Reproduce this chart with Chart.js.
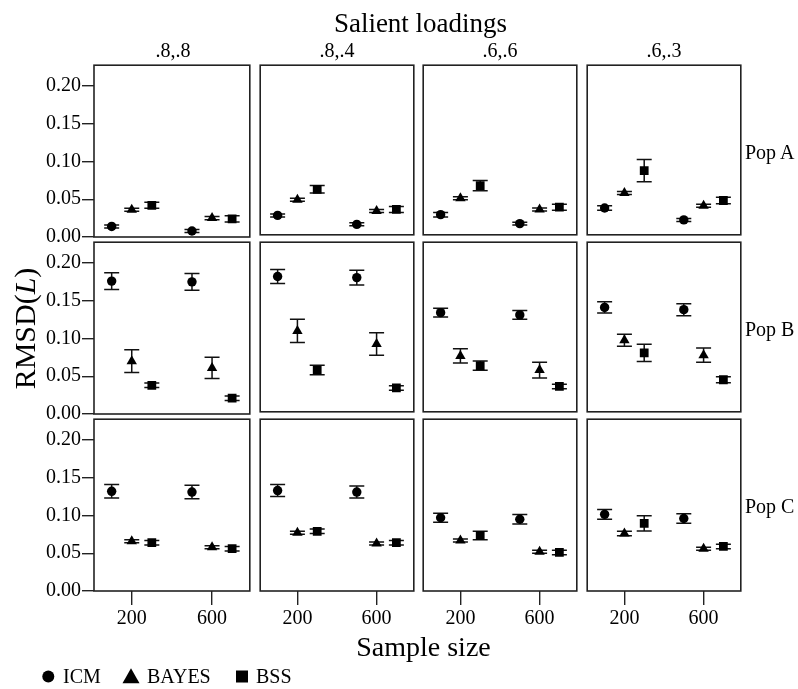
<!DOCTYPE html>
<html>
<head>
<meta charset="utf-8">
<title>RMSD(L) by sample size, salient loadings and population</title>
<script src="https://cdn.jsdelivr.net/npm/chart.js@4/dist/chart.umd.min.js"></script>
<style>
  html, body { margin: 0; padding: 0; background: #fff; }
  #page { position: relative; width: 798px; height: 689px; overflow: hidden; background: #fff; }
  #page canvas { position: absolute; }
  #labels { position: absolute; left: 0; top: 0; pointer-events: none; }
  #labels text { font-family: 'Liberation Serif', 'Times New Roman', serif; fill: #000; }
</style>
</head>
<body>
<div id="page"></div>
<script>
// Facets
const loadings = ['.8,.8', '.8,.4', '.6,.6', '.6,.3'];
const populations = ['Pop A', 'Pop B', 'Pop C'];
const methods = ['ICM', 'BAYES', 'BSS'];
const sampleSizes = [200, 600];
const yTicks = [0.00, 0.05, 0.10, 0.15, 0.20];

// Mean RMSD(L), ordered loading by loading: [n=200, n=600] for .8,.8 | .8,.4 | .6,.6 | .6,.3
const popA_ICM       = [0.014, 0.008, 0.026, 0.014, 0.027, 0.015, 0.036, 0.020];
const popA_ICM_err   = [0.002, 0.002, 0.002, 0.002, 0.003, 0.002, 0.003, 0.002];
const popA_BAYES     = [0.036, 0.025, 0.047, 0.032, 0.049, 0.034, 0.056, 0.039];
const popA_BAYES_err = [0.002, 0.002, 0.002, 0.002, 0.002, 0.002, 0.002, 0.002];
const popA_BSS       = [0.042, 0.024, 0.061, 0.034, 0.066, 0.037, 0.086, 0.046];
const popA_BSS_err   = [0.004, 0.004, 0.005, 0.004, 0.007, 0.004, 0.015, 0.0045];

const popB_ICM       = [0.176, 0.175, 0.1815, 0.180, 0.133, 0.130, 0.140, 0.137];
const popB_ICM_err   = [0.011, 0.011, 0.0095, 0.0098, 0.006, 0.0058, 0.0075, 0.008];
const popB_BAYES     = [0.070, 0.061, 0.1085, 0.091, 0.075, 0.056, 0.096, 0.076];
const popB_BAYES_err = [0.015, 0.014, 0.0155, 0.015, 0.0095, 0.0106, 0.008, 0.0095];
const popB_BSS       = [0.038, 0.021, 0.056, 0.032, 0.062, 0.034, 0.079, 0.043];
const popB_BSS_err   = [0.003, 0.003, 0.0063, 0.003, 0.0063, 0.003, 0.0115, 0.004];

const popC_ICM       = [0.132, 0.131, 0.133, 0.131, 0.097, 0.095, 0.1015, 0.096];
const popC_ICM_err   = [0.009, 0.009, 0.008, 0.008, 0.006, 0.0063, 0.0065, 0.0063];
const popC_BAYES     = [0.066, 0.058, 0.077, 0.063, 0.067, 0.052, 0.076, 0.056];
const popC_BAYES_err = [0.002, 0.002, 0.002, 0.002, 0.002, 0.002, 0.003, 0.002];
const popC_BSS       = [0.064, 0.056, 0.079, 0.064, 0.0735, 0.051, 0.0895, 0.059];
const popC_BSS_err   = [0.003, 0.003, 0.003, 0.003, 0.0055, 0.003, 0.010, 0.003];

const means = [
  [popA_ICM, popA_BAYES, popA_BSS],
  [popB_ICM, popB_BAYES, popB_BSS],
  [popC_ICM, popC_BAYES, popC_BSS]
];
const errs = [
  [popA_ICM_err, popA_BAYES_err, popA_BSS_err],
  [popB_ICM_err, popB_BAYES_err, popB_BSS_err],
  [popC_ICM_err, popC_BAYES_err, popC_BSS_err]
];

// Panel geometry
const colLeft = [94, 258, 421, 585];
const rowTop = [63, 240, 417];
const panelW = 158, panelH = 174;
const PAD = 4;
const LABEL_ROOM = 14;       // room below left panels for the "0.00" label
const Y_AXIS_W = 94;
const X_AXIS_H = 44;
const DODGE = 100;           // horizontal spread between methods within a sample size
const X_MIN = 12, X_MAX = 788;
const Y_MAX = 0.2275;

const markerStyle = { ICM: ['circle', 4.7], BAYES: ['triangle', 6], BSS: ['rect', 6.2] };
const INK = '#111';
const FRAME = '#222';
const serif = "'Liberation Serif', 'Times New Roman', serif";

Chart.defaults.font.family = serif;
Chart.defaults.color = '#000';

const framePlugin = {
  id: 'panelFrame',
  afterDraw(chart) {
    const { ctx, chartArea: a } = chart;
    ctx.save();
    ctx.strokeStyle = FRAME;
    ctx.lineWidth = 1.6;
    ctx.strokeRect(a.left, a.top, a.right - a.left, a.bottom - a.top);
    ctx.restore();
  }
};

const errorBarPlugin = {
  id: 'errorBars',
  beforeDatasetsDraw(chart) {
    const { ctx, scales: { x, y } } = chart;
    ctx.save();
    ctx.strokeStyle = INK;
    ctx.lineWidth = 1.5;
    chart.data.datasets.forEach(ds => {
      ds.data.forEach((p, i) => {
        const e = ds.errors[i];
        const px = x.getPixelForValue(p.x);
        const top = y.getPixelForValue(p.y + e);
        const bot = y.getPixelForValue(p.y - e);
        const half = 7.5;
        ctx.beginPath();
        ctx.moveTo(px, top); ctx.lineTo(px, bot);
        ctx.moveTo(px - half, top); ctx.lineTo(px + half, top);
        ctx.moveTo(px - half, bot); ctx.lineTo(px + half, bot);
        ctx.stroke();
      });
    });
    ctx.restore();
  }
};

// keep the plot area fixed: no extra room reserved for overhanging tick labels
function noLabelPadding(s) {
  s.paddingTop = 0; s.paddingBottom = 0; s.paddingLeft = 0; s.paddingRight = 0;
}

const page = document.getElementById('page');

populations.forEach((pop, r) => {
  loadings.forEach((ld, c) => {
    const isLeft = c === 0;
    const isBottom = r === populations.length - 1;
    const leftSpace = isLeft ? Y_AXIS_W : PAD;
    const bottomSpace = isBottom ? X_AXIS_H : (isLeft ? LABEL_ROOM : PAD);
    const cv = document.createElement('canvas');
    const w = leftSpace + panelW + PAD;
    const h = PAD + panelH + bottomSpace;
    cv.width = w; cv.height = h;
    cv.style.width = w + 'px'; cv.style.height = h + 'px';
    cv.style.left = (colLeft[c] - leftSpace) + 'px';
    cv.style.top = (rowTop[r] - PAD) + 'px';
    page.appendChild(cv);

    const datasets = methods.map((m, k) => ({
      label: m,
      data: sampleSizes.map((n, j) => ({ x: n + (k - 1) * DODGE, y: means[r][k][c * 2 + j] })),
      errors: sampleSizes.map((n, j) => errs[r][k][c * 2 + j]),
      pointStyle: markerStyle[m][0],
      pointRadius: markerStyle[m][1],
      pointHoverRadius: markerStyle[m][1],
      backgroundColor: '#000',
      borderColor: '#000',
      borderWidth: 0,
      showLine: false
    }));

    const xScale = {
      type: 'linear',
      min: X_MIN, max: X_MAX,
      display: isBottom,
      afterBuildTicks: s => { s.ticks = sampleSizes.map(v => ({ value: v })); },
      afterFit: s => { noLabelPadding(s); if (isBottom) s.height = X_AXIS_H; },
      grid: { drawOnChartArea: false, drawTicks: true, tickLength: 14, color: FRAME, lineWidth: 1.4 },
      border: { display: false },
      ticks: { font: { size: 20 }, color: '#000', padding: 2, maxRotation: 0, callback: v => String(v) }
    };

    const yScale = {
      type: 'linear',
      min: 0, max: Y_MAX,
      display: isLeft,
      afterBuildTicks: s => { s.ticks = yTicks.map(v => ({ value: v })); },
      afterFit: s => { noLabelPadding(s); if (isLeft) s.width = Y_AXIS_W; },
      grid: { drawOnChartArea: false, drawTicks: true, tickLength: 12, color: FRAME, lineWidth: 1.4 },
      border: { display: false },
      ticks: { font: { size: 20 }, color: '#000', padding: 1, callback: v => v.toFixed(2) }
    };

    new Chart(cv, {
      type: 'scatter',
      data: { datasets },
      plugins: [framePlugin, errorBarPlugin],
      options: {
        responsive: false,
        animation: false,
        devicePixelRatio: 1,
        layout: { padding: { left: isLeft ? 0 : PAD, right: PAD, top: PAD, bottom: isBottom ? 0 : bottomSpace } },
        plugins: { legend: { display: false }, tooltip: { enabled: false } },
        scales: { x: xScale, y: yScale }
      }
    });
  });
});

// Titles, facet strips and legend
const NS = 'http://www.w3.org/2000/svg';
const svg = document.createElementNS(NS, 'svg');
svg.setAttribute('id', 'labels');
svg.setAttribute('width', 798);
svg.setAttribute('height', 689);
page.appendChild(svg);

function addText(str, x, y, size, anchor, extra) {
  const t = document.createElementNS(NS, 'text');
  t.setAttribute('x', x);
  t.setAttribute('y', y);
  t.setAttribute('font-size', size);
  t.setAttribute('text-anchor', anchor || 'start');
  if (extra) Object.entries(extra).forEach(([k, v]) => t.setAttribute(k, v));
  t.textContent = str;
  svg.appendChild(t);
  return t;
}

addText('Salient loadings', 420.5, 32, 27, 'middle');
loadings.forEach((ld, c) => addText(ld, colLeft[c] + panelW / 2, 57, 20, 'middle'));
const popBaseline = [159, 336, 513];
populations.forEach((p, r) => addText(p, 745, popBaseline[r], 20, 'start'));
addText('Sample size', 423.5, 656, 28, 'middle');

// y-axis title with italic L
const yt = addText('RMSD(', 0, 0, 30, 'middle', { transform: 'translate(35,328.5) rotate(-90)' });
const it = document.createElementNS(NS, 'tspan');
it.setAttribute('font-style', 'italic');
it.textContent = 'L';
yt.appendChild(it);
yt.appendChild(document.createTextNode(')'));

// legend
const legendY = 683;
const lc = document.createElementNS(NS, 'circle');
lc.setAttribute('cx', 48.3); lc.setAttribute('cy', 676.5); lc.setAttribute('r', 6); lc.setAttribute('fill', '#000');
svg.appendChild(lc);
addText(methods[0], 63, legendY, 20);
const lt = document.createElementNS(NS, 'polygon');
lt.setAttribute('points', '131,668.3 139.5,683.3 122.5,683.3');
lt.setAttribute('fill', '#000');
svg.appendChild(lt);
addText(methods[1], 147, legendY, 20);
const ls = document.createElementNS(NS, 'rect');
ls.setAttribute('x', 236); ls.setAttribute('y', 670.5); ls.setAttribute('width', 12); ls.setAttribute('height', 12); ls.setAttribute('fill', '#000');
svg.appendChild(ls);
addText(methods[2], 256, legendY, 20);
</script>
</body>
</html>
